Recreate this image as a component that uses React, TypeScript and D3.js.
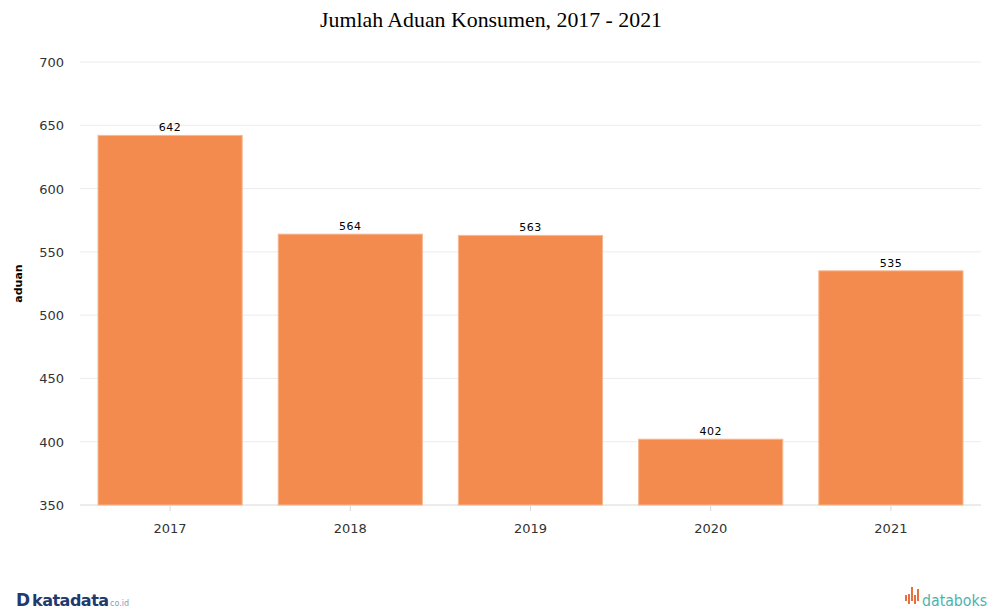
import React from "react";
import * as d3 from "d3";

const years = ["2017", "2018", "2019", "2020", "2021"];
const aduan = [642, 564, 563, 402, 535];
const yTicks = [350, 400, 450, 500, 550, 600, 650, 700];
const logoBars = [6, 10, 14, 9, 12];

const W = 1002;
const H = 609;
const M = { left: 80, right: 21, top: 62, bottom: 104 };

export default function App() {
  const x = d3
    .scaleBand<string>()
    .domain(years)
    .range([M.left, W - M.right])
    .paddingInner(0.2)
    .paddingOuter(0.1);
  const y = d3.scaleLinear().domain([350, 700]).range([H - M.bottom, M.top]);
  const font = "'DejaVu Sans', Verdana, sans-serif";
  return (
    <svg
      width={W}
      height={H}
      style={{ position: "absolute", left: 0, top: 0, background: "#fff" }}
    >
      <text
        x={491}
        y={27}
        textAnchor="middle"
        fontFamily="'Liberation Serif', 'Times New Roman', serif"
        fontSize={22}
        fill="#000"
        textLength={342}
        lengthAdjust="spacingAndGlyphs"
      >
        Jumlah Aduan Konsumen, 2017 - 2021
      </text>
      {yTicks.map((t) => (
        <g key={t}>
          <line
            x1={M.left}
            x2={W - M.right}
            y1={y(t)}
            y2={y(t)}
            stroke={t === 350 ? "#d8d8d8" : "#ececec"}
            strokeWidth={1}
          />
          <text
            x={64}
            y={y(t) + 5}
            textAnchor="end"
            fontFamily={font}
            fontSize={13}
            fill="#333"
          >
            {t}
          </text>
        </g>
      ))}
      <text
        transform={`translate(22,${(y(350) + y(700)) / 2}) rotate(-90)`}
        textAnchor="middle"
        fontFamily={font}
        fontSize={11}
        fontWeight="bold"
        fill="#000"
      >
        aduan
      </text>
      {years.map((yr, i) => {
        const bx = x(yr)!;
        const cx = bx + x.bandwidth() / 2;
        return (
          <g key={yr}>
            <rect
              x={bx}
              y={y(aduan[i])}
              width={x.bandwidth()}
              height={y(350) - y(aduan[i])}
              fill="#f38b4f"
              stroke="#f7b791"
              strokeWidth={1}
            />
            <text
              x={cx}
              y={y(aduan[i]) - 4}
              textAnchor="middle"
              fontFamily={font}
              fontSize={11}
              letterSpacing={0.5}
              fill="#000"
            >
              {aduan[i]}
            </text>
            <line x1={cx} x2={cx} y1={y(350)} y2={y(350) + 6} stroke="#d8d8d8" />
            <text
              x={cx}
              y={y(350) + 28}
              textAnchor="middle"
              fontFamily={font}
              fontSize={13}
              fill="#333"
            >
              {yr}
            </text>
          </g>
        );
      })}
      <g>
        <text x={16} y={606} fontFamily={font} fontSize={17} fontWeight="bold" fill="#1f3a6e">
          D
        </text>
        <text x={32} y={606} fontFamily={font} fontSize={16} fontWeight="bold" fill="#1f3a6e" letterSpacing={-0.5}>
          katadata
        </text>
        <text x={110} y={606} fontFamily={font} fontSize={8} fill="#8a9bb8">
          co.id
        </text>
      </g>
      <g>
        {logoBars.map((h, i) => (
          <rect key={i} x={905 + i * 3} y={601 - h + (i % 2) * 3} width={2} height={h} fill="#e8703f" />
        ))}
        <text
          x={922}
          y={606}
          fontFamily={font}
          fontSize={16}
          fill="#4bb3b0"
          textLength={65}
          lengthAdjust="spacingAndGlyphs"
        >
          databoks
        </text>
      </g>
    </svg>
  );
}
